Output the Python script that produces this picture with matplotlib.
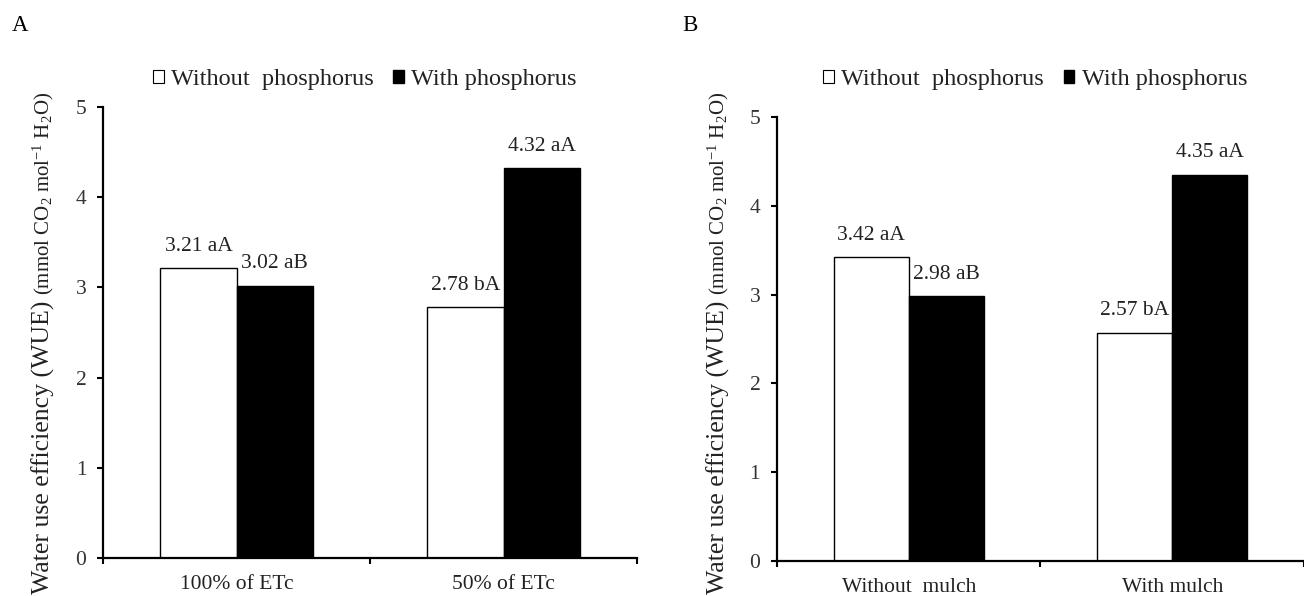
import matplotlib

matplotlib.use("Agg")
import matplotlib.pyplot as plt
from matplotlib.patches import Patch

plt.rcParams["font.family"] = ["Liberation Serif", "DejaVu Serif"]
plt.rcParams["mathtext.fontset"] = "custom"
plt.rcParams["mathtext.rm"] = "Liberation Serif"
plt.rcParams["mathtext.it"] = "Liberation Serif:italic"

# panel A: irrigation level
cats_a = ["100% of ETc", "50% of ETc"]
without_p_a = [3.21, 2.78]
with_p_a = [3.02, 4.32]
letters_without_a = ["aA", "bA"]
letters_with_a = ["aB", "aA"]

# panel B: mulch
cats_b = ["Without  mulch", "With mulch"]
without_p_b = [3.42, 2.57]
with_p_b = [2.98, 4.35]
letters_without_b = ["aA", "bA"]
letters_with_b = ["aB", "aA"]

series_names = ["Without  phosphorus", "With phosphorus"]
yticks = [0, 1, 2, 3, 4, 5]

FS = 15.5
W = 0.285


def draw_panel(fig, rect, cats, vals_without, vals_with, let_without, let_with,
               tag, tag_x, ylab_x, leg_y):
    ax = fig.add_axes(rect)
    xs = list(range(len(cats)))
    ax.bar([x - W / 2 for x in xs], vals_without, W, color="white", edgecolor="black", linewidth=1.0)
    ax.bar([x + W / 2 for x in xs], vals_with, W, color="black", edgecolor="black", linewidth=1.0)

    for x, v, l in zip(xs, vals_without, let_without):
        ax.annotate(f"{v:.2f} {l}", (x - W / 2, v), xytext=(0, 9), textcoords="offset points",
                    ha="center", va="bottom", fontsize=FS, color="#222222")
    for x, v, l in zip(xs, vals_with, let_with):
        ax.annotate(f"{v:.2f} {l}", (x + W / 2, v), xytext=(0, 9), textcoords="offset points",
                    ha="center", va="bottom", fontsize=FS, color="#222222")

    ax.set_xlim(-0.5, len(cats) - 0.5)
    ax.set_ylim(0, 5)
    ax.set_yticks(yticks)
    ax.set_yticklabels([str(t) for t in yticks], fontsize=FS, color="#333333")
    ax.set_xticks([x - 0.5 for x in xs] + [len(cats) - 0.5])
    ax.set_xticklabels([])
    ax.set_xticks(xs, minor=True)
    ax.set_xticklabels(cats, minor=True, fontsize=FS, color="#222222")
    ax.tick_params(axis="x", which="minor", length=0, pad=12)
    ax.tick_params(axis="x", which="major", direction="out", length=4, width=1.5)
    ax.tick_params(axis="y", direction="out", length=4, width=1.5, pad=8)

    for s in ["top", "right"]:
        ax.spines[s].set_visible(False)
    for s in ["left", "bottom"]:
        ax.spines[s].set_linewidth(1.6)

    handles = [Patch(facecolor="white", edgecolor="black", linewidth=0.8),
               Patch(facecolor="black", edgecolor="black")]
    ax.legend(handles, series_names, ncol=2, loc="center", bbox_to_anchor=(0.49, leg_y),
              frameon=False, fontsize=17.5, handlelength=0.45, handleheight=0.45,
              handletextpad=0.3, columnspacing=0.8, borderaxespad=0.0,
              labelcolor="#222222")

    t1 = fig.text(ylab_x, 0.003, "Water use efficiency (WUE)", rotation=90,
                  ha="center", va="bottom", fontsize=18.5, color="#222222")
    ax.annotate("(mmol CO$_2$ mol$^{-1}$ H$_2$O)", xy=(0.5, 1), xycoords=t1,
                xytext=(0, 4), textcoords="offset points", rotation=90,
                ha="center", va="bottom", fontsize=15, color="#222222")

    fig.text(tag_x, 0.958, tag, ha="left", va="center", fontsize=16.5)
    return ax


fig = plt.figure(figsize=(13.04, 5.96), dpi=100)
draw_panel(fig, [0.079, 0.0638, 0.4095, 0.7567], cats_a, without_p_a, with_p_a,
           letters_without_a, letters_with_a, "A", 0.009, 0.033, 1.06)
draw_panel(fig, [0.5958, 0.0587, 0.4042, 0.745], cats_b, without_p_b, with_p_b,
           letters_without_b, letters_with_b, "B", 0.523, 0.551, 1.085)

fig.savefig("out.png", dpi=100)
